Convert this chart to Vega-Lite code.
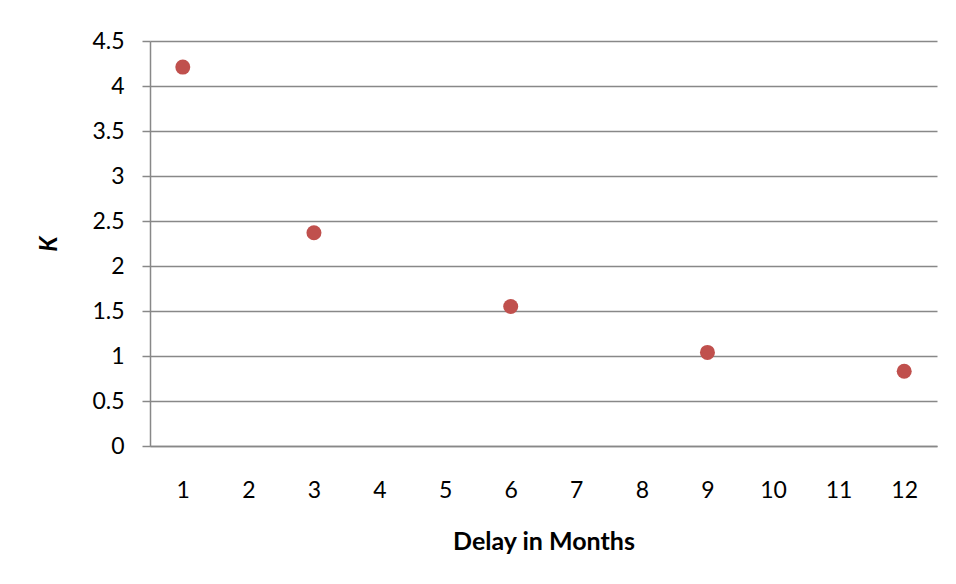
{
  "$schema": "https://vega.github.io/schema/vega-lite/v6.json",
  "width": 787,
  "height": 405,
  "autosize": {"type": "none"},
  "padding": {"left": 150, "top": 41, "right": 19, "bottom": 138},
  "background": "white",
  "config": {
    "view": {"stroke": null},
    "font": "Lato"
  },
  "data": {
    "values": [
      {"month": "1", "k": 4.21},
      {"month": "3", "k": 2.37},
      {"month": "6", "k": 1.55},
      {"month": "9", "k": 1.04},
      {"month": "12", "k": 0.83}
    ]
  },
  "mark": {"type": "circle", "size": 225, "color": "#C0504D", "opacity": 1},
  "encoding": {
    "x": {
      "field": "month",
      "type": "ordinal",
      "scale": {"domain": ["1","2","3","4","5","6","7","8","9","10","11","12"], "paddingInner": 0, "paddingOuter": 0},
      "axis": {
        "title": "Delay in Months",
        "titleFont": "Lato",
        "titleFontSize": 25,
        "titleFontWeight": "bold",
        "titleColor": "#000",
        "titlePadding": 27,
        "labelAngle": 0,
        "labelFont": "Lato",
        "labelFontSize": 23,
        "labelColor": "#000",
        "labelPadding": 33,
        "ticks": false,
        "domain": true,
        "domainColor": "#888888",
        "domainWidth": 1.5,
        "grid": false
      }
    },
    "y": {
      "field": "k",
      "type": "quantitative",
      "scale": {"domain": [0, 4.5], "nice": false},
      "axis": {
        "title": "K",
        "titleFont": "Lato",
        "titleFontSize": 24,
        "titleFontWeight": "bold",
        "titleFontStyle": "italic",
        "titleColor": "#000",
        "titlePadding": 30,
        "values": [0, 0.5, 1, 1.5, 2, 2.5, 3, 3.5, 4, 4.5],
        "format": "~g",
        "labelFont": "Lato",
        "labelFontSize": 23,
        "labelColor": "#000",
        "labelPadding": 18,
        "tickSize": 8,
        "tickColor": "#888888",
        "tickWidth": 1.5,
        "domainColor": "#888888",
        "domainWidth": 1.5,
        "grid": true,
        "gridColor": "#888888",
        "gridWidth": 1.5
      }
    }
  }
}
